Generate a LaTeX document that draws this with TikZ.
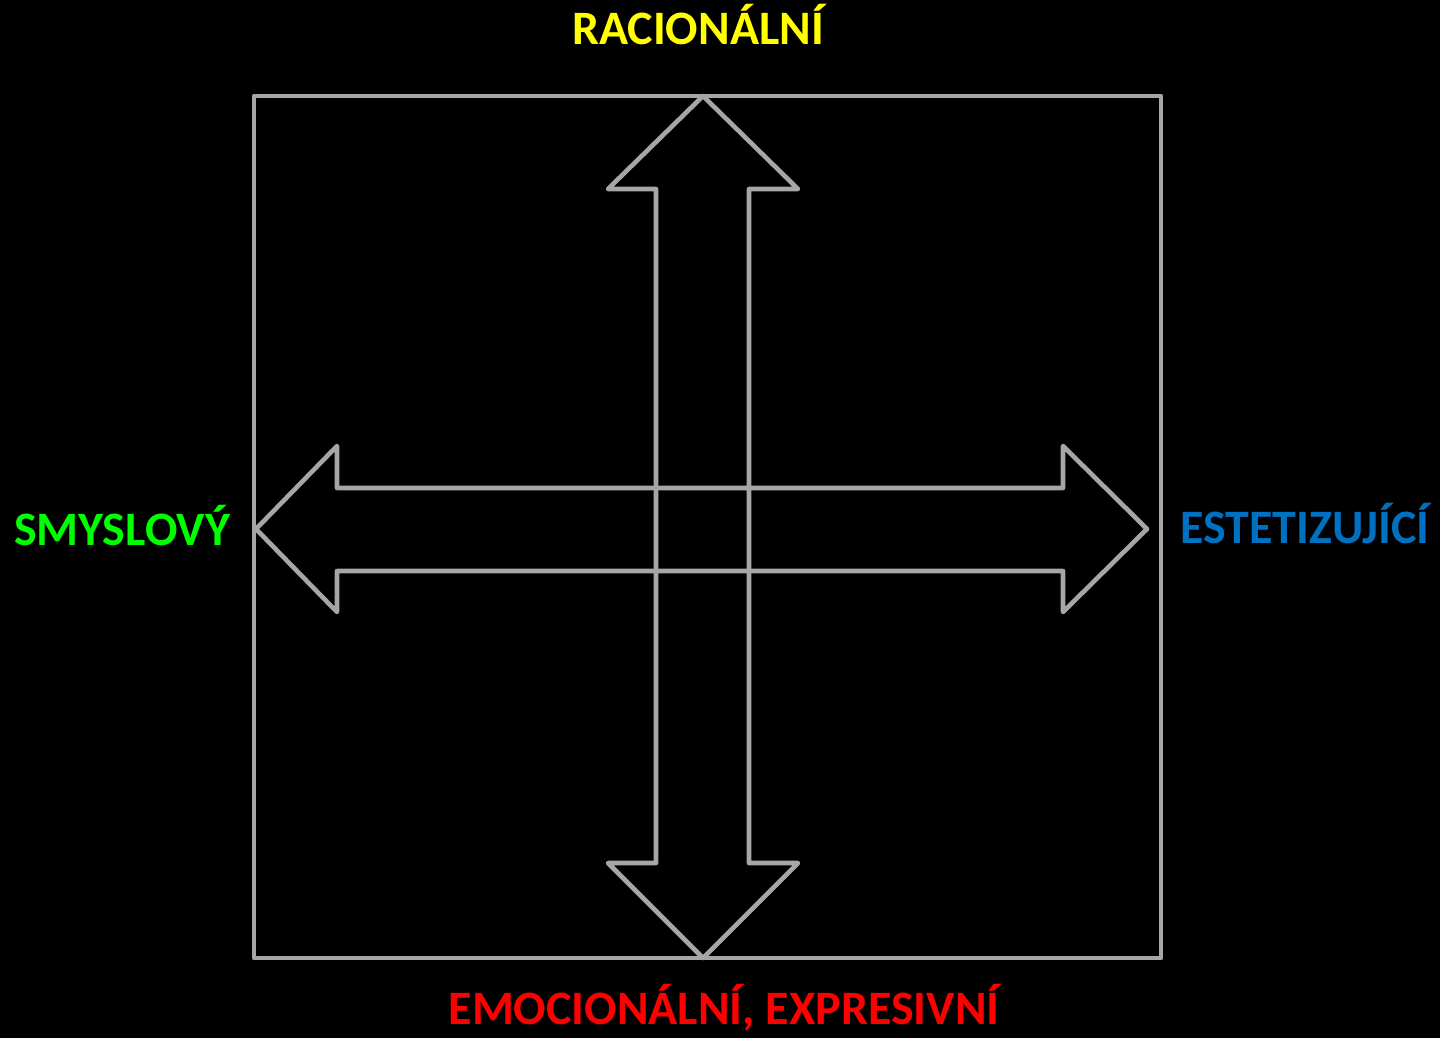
\documentclass[tikz,border=0pt]{standalone}
\usepackage{fontspec}
\setmainfont{Carlito}
\usetikzlibrary{positioning}
\definecolor{axisgray}{HTML}{A6A6A6}
\definecolor{polyellow}{HTML}{FFFF00}
\definecolor{polgreen}{HTML}{00FF00}
\definecolor{polblue}{HTML}{0070C0}
\definecolor{polred}{HTML}{FF0000}
\tikzset{
    axisline/.style={draw=axisgray, line width=2.3pt, line join=round},
    polelabel/.style={font=\bfseries\fontsize{24}{28}\selectfont, anchor=base, inner sep=0pt},
}

\begin{document}
\begin{tikzpicture}[x=0.5pt, y=-0.5pt]
\fill[black] (0,0) rectangle (1440,1038);
\useasboundingbox (0,0) rectangle (1440,1038);

% frame
\draw[axisline] (254,96) rectangle (1161,958);

% vertical double arrow
\draw[axisline] (703,96) -- (798,189) -- (749,189) -- (749,863) -- (798,863) -- (703,958)
    -- (608,863) -- (656,863) -- (656,189) -- (608,189) -- cycle;
% horizontal double arrow
\draw[axisline] (256,529) -- (337,446) -- (337,488) -- (1063,488) -- (1063,446) -- (1147,529)
    -- (1063,612) -- (1063,571) -- (337,571) -- (337,612) -- cycle;

\node[polelabel, text=polyellow] (rac) at (698,45) {RACIONÁLNÍ};
\node[polelabel, text=polgreen] (smy) at (122,545) {SMYSLOVÝ};
\node[polelabel, text=polblue] (est) at (1305,543) {ESTETIZUJÍCÍ};
\node[polelabel, text=polred] (emo) at (724,1024) {EMOCIONÁLNÍ, EXPRESIVNÍ};
\end{tikzpicture}
\end{document}
